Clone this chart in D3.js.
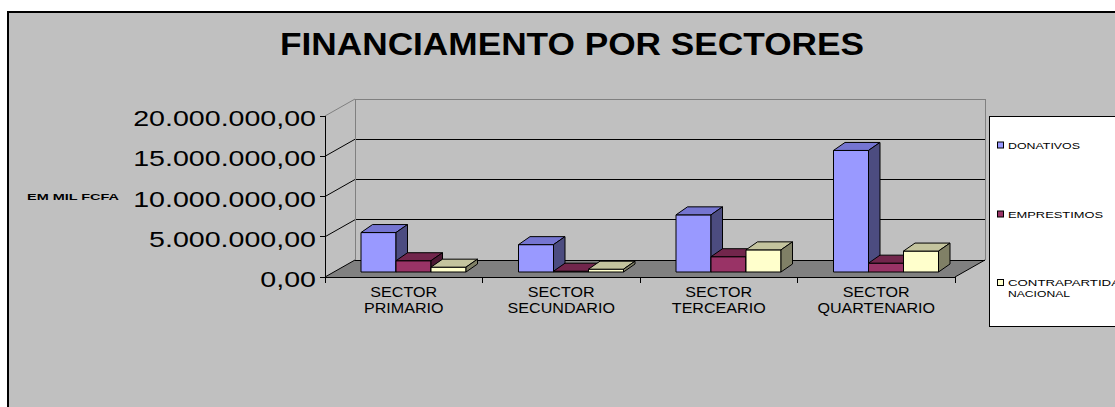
<!DOCTYPE html>
<html><head><meta charset="utf-8">
<script src="https://cdn.jsdelivr.net/npm/d3@7"></script>
<style>body{margin:0;background:#fff}svg{display:block;font-family:"Liberation Sans",Arial,sans-serif}</style>
</head><body><svg id="c" width="1115" height="407"></svg>
<script>
const categories = [["SECTOR","PRIMARIO"],["SECTOR","SECUNDARIO"],["SECTOR","TERCEARIO"],["SECTOR","QUARTENARIO"]];
const seriesNames = ["DONATIVOS","EMPRESTIMOS","CONTRAPARTIDA NACIONAL"];
const donativos = [4900000, 3400000, 7100000, 15100000];
const emprestimos = [1400000, 100000, 1900000, 1100000];
const contrapartida = [600000, 350000, 2750000, 2600000];
const yTicks = [0, 5000000, 10000000, 15000000, 20000000];
const yTickLabels = ["0,00","5.000.000,00","10.000.000,00","15.000.000,00","20.000.000,00"];
const title = "FINANCIAMENTO POR SECTORES";
const yTitle = "EM MIL FCFA";

const seriesValues = [donativos, emprestimos, contrapartida];
const colors = [
  {front:"#9999FF", top:"#7575D1", side:"#4C4C80"},
  {front:"#993366", top:"#72264C", side:"#4C1933"},
  {front:"#FFFFCC", top:"#C4C49E", side:"#808066"}
];

const svg = d3.select("#c");
svg.append("rect").attr("x",8).attr("y",12).attr("width",1120).attr("height",410)
  .attr("fill","#C0C0C0").attr("stroke","#000").attr("stroke-width",2);

const x0 = 325, x1 = 955;
const D = {dx:30, dy:-17};
const y = d3.scaleLinear().domain([0,20000000]).range([277,116]);
const xb = d3.scaleBand().domain(d3.range(categories.length)).range([x0,x1]).paddingInner(0).paddingOuter(0);
const xs = d3.scaleBand().domain(d3.range(seriesNames.length)).range([36,141]);

const line = (a,b,c,d,col) => svg.append("line").attr("x1",a).attr("y1",b).attr("x2",c).attr("y2",d).attr("stroke",col).attr("stroke-width",1).attr("shape-rendering","crispEdges");
const poly = (pts,fill,stroke) => svg.append("polygon").attr("points",pts.map(p=>p.join(",")).join(" ")).attr("fill",fill).attr("stroke",stroke||"none").attr("stroke-width",1).attr("stroke-linejoin","miter");

poly([[x0,y(0)],[x1,y(0)],[x1+D.dx,y(0)+D.dy],[x0+D.dx,y(0)+D.dy]],"#808080");
yTicks.forEach((t,i)=>{
  const col = i===yTicks.length-1 ? "#808080" : "#000";
  line(x0+D.dx, y(t)+D.dy, x1+D.dx, y(t)+D.dy, col);
  svg.append("line").attr("x1",x0).attr("y1",y(t)).attr("x2",x0+D.dx).attr("y2",y(t)+D.dy).attr("stroke",col).attr("stroke-width",1);
});
line(x0+D.dx, y(20000000)+D.dy, x0+D.dx, y(0)+D.dy, "#808080");
line(x1+D.dx, y(20000000)+D.dy, x1+D.dx, y(0)+D.dy, "#808080");
line(x0, y(0), x1, y(0), "#000");
svg.append("line").attr("x1",x1).attr("y1",y(0)).attr("x2",x1+D.dx).attr("y2",y(0)+D.dy).attr("stroke","#000");
line(x0, y(20000000), x0, y(0), "#000");
yTicks.forEach(t=>line(x0-5,y(t),x0,y(t),"#000"));
d3.range(categories.length+1).forEach(i=>{
  const xx = i<categories.length ? xb(i) : x1;
  line(xx, y(0), xx, y(0)+6, "#000");
});

const bdx = 11.5, bdy = -8, baseOff = -5;
categories.forEach((c,ci)=>{
  seriesValues.forEach((vals,si)=>{
    const v = vals[ci];
    const xl = xb(ci)+xs(si), xr = xl+xs.bandwidth();
    const yb = y(0)+baseOff, yt = y(v)+baseOff;
    const col = colors[si];
    poly([[xl,yt],[xr,yt],[xr,yb],[xl,yb]], col.front, "#000");
    poly([[xl,yt],[xl+bdx,yt+bdy],[xr+bdx,yt+bdy],[xr,yt]], col.top, "#000");
    poly([[xr,yt],[xr+bdx,yt+bdy],[xr+bdx,yb+bdy],[xr,yb]], col.side, "#000");
  });
});

yTicks.forEach((t,i)=>{
  svg.append("text").attr("transform",`translate(316,${y(t)+10})`+" scale(1.3,1)")
    .attr("text-anchor","end").attr("font-size",22).attr("fill","#000").text(yTickLabels[i]);
});
svg.append("text").attr("x",27).attr("y",200).attr("font-size",9.3).attr("font-weight","bold")
  .attr("textLength",92).attr("lengthAdjust","spacingAndGlyphs").text(yTitle);

categories.forEach((c,ci)=>{
  const cx = xb(ci)+xb.bandwidth()/2;
  c.forEach((ln,li)=>{
    svg.append("text").attr("transform",`translate(${cx},${297+li*16}) scale(1.15,1)`)
      .attr("text-anchor","middle").attr("font-size",14).text(ln);
  });
});

svg.append("text").attr("x",572).attr("y",55).attr("text-anchor","middle").attr("font-size",32)
  .attr("font-weight","bold").attr("textLength",584).attr("lengthAdjust","spacingAndGlyphs").text(title);

svg.append("rect").attr("x",989.5).attr("y",116.5).attr("width",140).attr("height",210)
  .attr("fill","#fff").attr("stroke","#000");
const legLines = [[["DONATIVOS",72]],[["EMPRESTIMOS",95]],[["CONTRAPARTIDA",112],["NACIONAL",62]]];
const legY = [148.5, 217.5, 286];
seriesNames.forEach((s,i)=>{
  svg.append("rect").attr("x",997.5).attr("y",legY[i]-6.5).attr("width",6).attr("height",6)
    .attr("fill",colors[i].front).attr("stroke","#000");
  legLines[i].forEach(([t,w],li)=>{
    svg.append("text").attr("x",1008).attr("y",legY[i]+li*11).attr("font-size",9.3)
      .attr("textLength",w).attr("lengthAdjust","spacingAndGlyphs").text(t);
  });
});
</script></body></html>
